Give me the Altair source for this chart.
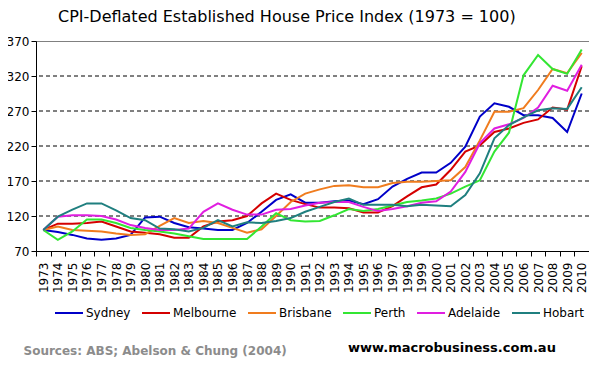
import altair as alt
import pandas as pd

years = list(range(1973, 2011))
cities = ["Sydney", "Melbourne", "Brisbane", "Perth", "Adelaide", "Hobart"]
colors = ["#0000c8", "#d40000", "#f07c1e", "#33e633", "#e01ee0", "#1f7f7f"]

sydney = [100, 97, 93, 88, 86, 88, 93, 118, 119, 110, 104, 102, 100, 100, 110, 126, 143, 151, 139,
          139, 141, 142, 137, 144, 162, 173, 182, 182, 196, 219, 262, 281, 276, 264, 264, 260, 240, 295]
melbourne = [100, 109, 109, 110, 112, 105, 98, 96, 94, 89, 89, 105, 112, 114, 120, 138, 152, 143, 137,
             132, 132, 131, 125, 125, 134, 148, 161, 165, 186, 212, 221, 240, 245, 253, 258, 275, 272, 334]
brisbane = [100, 105, 100, 99, 98, 95, 93, 94, 106, 117, 110, 113, 110, 103, 96, 101, 120, 140, 152,
            158, 163, 164, 161, 161, 167, 169, 169, 170, 171, 190, 228, 269, 269, 274, 300, 330, 324, 353]
perth = [100, 86, 98, 115, 115, 110, 103, 100, 98, 95, 91, 87, 87, 87, 87, 105, 124, 114, 112,
         113, 121, 130, 127, 130, 135, 140, 142, 145, 152, 162, 171, 212, 239, 321, 350, 330, 323, 358]
adelaide = [100, 119, 121, 121, 120, 115, 107, 103, 100, 100, 102, 126, 138, 129, 122, 122, 129, 130, 135,
            139, 140, 140, 133, 127, 130, 134, 139, 141, 155, 183, 224, 245, 251, 260, 275, 306, 299, 336]
hobart = [100, 119, 129, 138, 138, 128, 117, 114, 102, 101, 98, 103, 114, 105, 111, 110, 113, 117, 126,
          133, 140, 145, 136, 136, 136, 134, 136, 135, 134, 150, 181, 231, 250, 261, 271, 274, 273, 304]

series = [sydney, melbourne, brisbane, perth, adelaide, hobart]
y_ticks = [70, 120, 170, 220, 270, 320, 370]
grid_values = [120, 170, 220, 270, 320]

title_text = "CPI-Deflated Established House Price Index (1973 = 100)"
source_text = "Sources: ABS; Abelson & Chung (2004)"
site_text = "www.macrobusiness.com.au"

rows = []
for c, vals in zip(cities, series):
    for yr, v in zip(years, vals):
        rows.append({"Year": str(yr), "City": c, "Index": v})
df = pd.DataFrame(rows)

FONT = "DejaVu Sans"
W, H = 553, 210

yscale = alt.Scale(domain=[70, 370], nice=False, zero=False)
yaxis = alt.Axis(values=y_ticks, title=None, grid=False, tickSize=5, labelPadding=2,
                 labelFontSize=12, labelFont=FONT, labelColor="black",
                 domainColor="black", tickColor="black")

xaxis = alt.Axis(title=None, labelAngle=-90, tickBand="extent", tickSize=5, labelPadding=6,
                 labelFontSize=12, labelFont=FONT, labelColor="black",
                 domainColor="black", tickColor="black", grid=False)

grid = alt.Chart(pd.DataFrame({"g": grid_values})).mark_rule(
    color="black", strokeDash=[4, 3], strokeWidth=1
).encode(y=alt.Y("g:Q", scale=yscale, axis=yaxis))

lines = alt.Chart(df).mark_line(strokeWidth=2).encode(
    x=alt.X("Year:O", bandPosition=0.5,
            scale=alt.Scale(type="band", paddingInner=0, paddingOuter=0), axis=xaxis),
    y=alt.Y("Index:Q", scale=yscale, axis=yaxis),
    color=alt.Color("City:N", scale=alt.Scale(domain=cities, range=colors),
                    legend=alt.Legend(title=None, orient="none", legendX=18, legendY=257,
                                      direction="horizontal", columns=6,
                                      symbolType="stroke", symbolSize=784, symbolStrokeWidth=2,
                                      labelFontSize=12, labelFont=FONT, labelColor="black",
                                      labelOffset=2, columnPadding=7, padding=0)),
    order=alt.Order("Year:O"),
)

title = alt.Chart(pd.DataFrame({"t": [title_text]})).mark_text(
    align="left", baseline="alphabetic", fontSize=16, font=FONT, color="black"
).encode(text="t:N", x=alt.value(22), y=alt.value(-19))

source = alt.Chart(pd.DataFrame({"t": [source_text]})).mark_text(
    align="left", baseline="alphabetic", fontSize=12, font=FONT, fontWeight="bold", color="#8c8c8c"
).encode(text="t:N", x=alt.value(-12.5), y=alt.value(314))

site = alt.Chart(pd.DataFrame({"t": [site_text]})).mark_text(
    align="left", baseline="alphabetic", fontSize=13, font=FONT, fontWeight="bold", color="black"
).encode(text="t:N", x=alt.value(312), y=alt.value(311))

chart = alt.layer(grid, lines, title, source, site).properties(
    width=W, height=H,
    autosize=alt.AutoSizeParams(type="none"),
    padding={"left": 28, "top": 33, "right": 0, "bottom": 108},
    background="white",
).configure_view(stroke="#808080", strokeWidth=1)

chart.save("out.html", embed_options={"renderer": "svg", "actions": False})
